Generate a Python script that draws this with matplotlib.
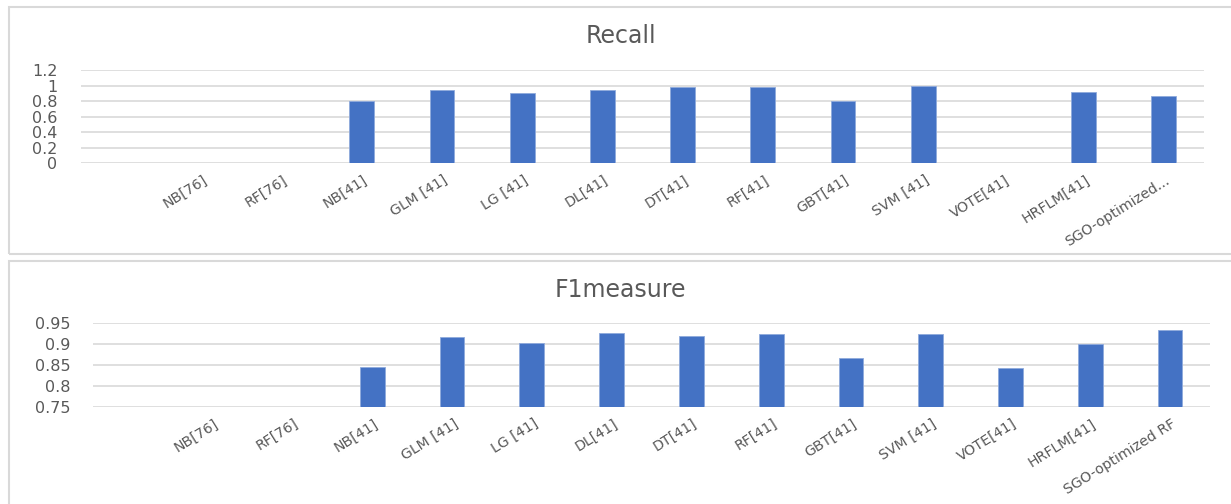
import numpy as np
import matplotlib
matplotlib.use("Agg")
import matplotlib.pyplot as plt
from matplotlib.patches import Rectangle
from matplotlib.transforms import ScaledTranslation

# Model names (bottom chart shows the full last label, top chart truncates it)
models = ["NB[76]", "RF[76]", "NB[41]", "GLM [41]", "LG [41]", "DL[41]", "DT[41]",
          "RF[41]", "GBT[41]", "SVM [41]", "VOTE[41]", "HRFLM[41]", "SGO-optimized RF"]
recall_labels = models[:-1] + ["SGO-optimized..."]
f1_labels = models

nan = np.nan
recall = [nan, nan, 0.80, 0.946, 0.903, 0.946, 0.988, 0.988, 0.808, 1.00, nan, 0.924, 0.868]
f1measure = [nan, nan, 0.845, 0.916, 0.903, 0.926, 0.919, 0.924, 0.867, 0.924, 0.843, 0.900, 0.933]

recall_ticks = [0, 0.2, 0.4, 0.6, 0.8, 1.0, 1.2]
recall_ticklabels = ["0", "0.2", "0.4", "0.6", "0.8", "1", "1.2"]
f1_ticks = [0.75, 0.8, 0.85, 0.9, 0.95]
f1_ticklabels = ["0.75", "0.8", "0.85", "0.9", "0.95"]

BAR = "#4472C4"
GRID = "#d9d9d9"
TEXT = "#595959"
W, H = 1231, 504
plt.rcParams["font.family"] = ["DejaVu Sans"]

fig = plt.figure(figsize=(W / 100, H / 100), dpi=100)


def px_axes(x0, x1, y_top, y_bot):
    return fig.add_axes([x0 / W, 1 - y_bot / H, (x1 - x0) / W, (y_bot - y_top) / H])


# chart frames
for (y0, y1) in [(7, 254), (261, 520)]:
    fig.patches.append(Rectangle((9 / W, 1 - y1 / H), (W + 20) / W, (y1 - y0) / H,
                                 transform=fig.transFigure, fill=False,
                                 edgecolor=GRID, linewidth=1.5))


def draw(ax, values, labels, ticks, ticklabels, ylim, ypad):
    x = np.arange(len(values))
    ax.bar(x, values, width=0.31, color=BAR, edgecolor="#8faadc", linewidth=0.6,
           bottom=0, zorder=3)
    ax.set_xlim(-1.5, len(values) - 0.5)
    ax.set_ylim(*ylim)
    for t in ticks:
        ax.axhline(t, color=GRID, linewidth=1.2, zorder=1)
    for s in ax.spines.values():
        s.set_visible(False)
    ax.set_yticks(ticks)
    ax.set_yticklabels(ticklabels, fontsize=11.5, color=TEXT)
    ax.set_xticks(x)
    ax.set_xticklabels(labels, fontsize=10.2, color=TEXT, rotation=32,
                       ha="right", va="top", rotation_mode="anchor")
    ax.tick_params(axis="y", length=0, pad=ypad)
    ax.tick_params(axis="x", length=0, pad=7)
    off = ScaledTranslation(1 / 100, 0, fig.dpi_scale_trans)
    for lab in ax.get_xticklabels():
        lab.set_transform(lab.get_transform() + off)
    ax.patch.set_alpha(0)


ax1 = px_axes(81, 1204, 70.3, 163.3)
draw(ax1, recall, recall_labels, recall_ticks, recall_ticklabels, (0, 1.2), 17)
ax2 = px_axes(93, 1210, 323.3, 406.7)
draw(ax2, f1measure, f1_labels, f1_ticks, f1_ticklabels, (0.75, 0.95), 16)

fig.text(621 / W, 1 - 43 / H, "Recall", ha="center", va="baseline",
         fontsize=17, color=TEXT)
fig.text(620 / W, 1 - 297 / H, "F1measure", ha="center", va="baseline",
         fontsize=17, color=TEXT)

fig.savefig("out.png", dpi=100)
